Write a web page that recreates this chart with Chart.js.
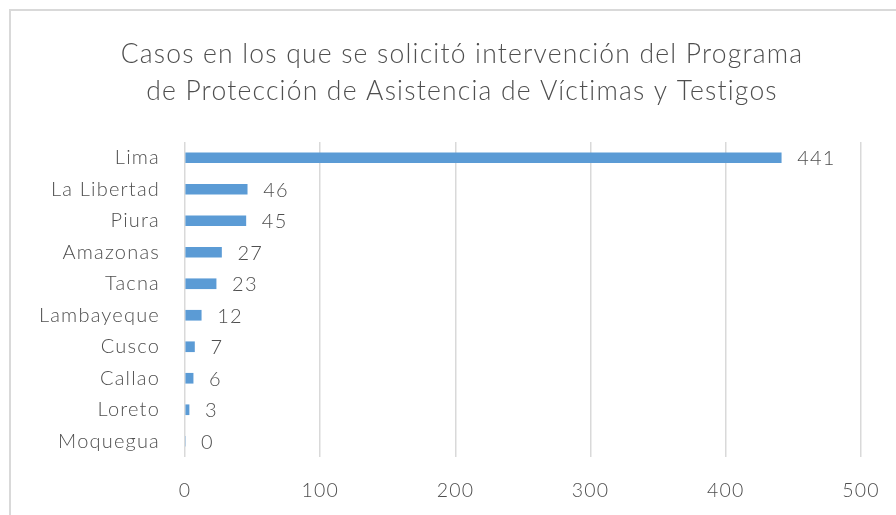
<!DOCTYPE html>
<html>
<head>
<meta charset="utf-8">
<script src="https://cdn.jsdelivr.net/npm/chart.js@4"></script>
<style>
  html, body { margin: 0; padding: 0; background: #fff; overflow: hidden; }
  #wrap { position: relative; width: 896px; height: 515px; }
  #frame { position: absolute; left: 9px; top: 9px; width: 1000px; height: 1000px; border: 2px solid #d9d9d9; box-sizing: border-box; }
  canvas { position: absolute; left: 0; top: 0; }
</style>
</head>
<body>
<div id="wrap">
  <div id="frame"></div>
  <canvas id="chart" width="896" height="515"></canvas>
</div>
<script>
// data
const regiones = ['Lima', 'La Libertad', 'Piura', 'Amazonas', 'Tacna', 'Lambayeque', 'Cusco', 'Callao', 'Loreto', 'Moquegua'];
const casos = [441, 46, 45, 27, 23, 12, 7, 6, 3, 0];
const titulo = ['Casos en los que se solicitó intervención del Programa', 'de Protección de Asistencia de Víctimas y Testigos'];
const xTicks = [0, 100, 200, 300, 400, 500];

const FONT = 'Lato, "Open Sans", sans-serif';
const GRAY = '#4f4f4f';
const SPACING = '1.2px';

// wider letter spacing, closer to the original Office look
const spacing = {
  id: 'spacing',
  beforeLayout(chart) { chart.ctx.letterSpacing = SPACING; },
  beforeDraw(chart) { chart.ctx.letterSpacing = SPACING; }
};

// title is centred on the full (cropped) chart frame, not on the canvas
const frameTitle = {
  id: 'frameTitle',
  afterDraw(chart) {
    const ctx = chart.ctx;
    ctx.save();
    ctx.letterSpacing = SPACING;
    ctx.font = '300 26.5px ' + FONT;
    ctx.fillStyle = GRAY;
    ctx.textAlign = 'center';
    ctx.textBaseline = 'middle';
    titulo.forEach((line, i) => ctx.fillText(line, 462, 54 + i * 37));
    ctx.restore();
  }
};

// simple value labels at the end of each bar
const barLabels = {
  id: 'barLabels',
  afterDatasetsDraw(chart) {
    const ctx = chart.ctx;
    const meta = chart.getDatasetMeta(0);
    ctx.save();
    ctx.letterSpacing = SPACING;
    ctx.font = '300 20px ' + FONT;
    ctx.fillStyle = GRAY;
    ctx.textAlign = 'left';
    ctx.textBaseline = 'middle';
    meta.data.forEach((bar, i) => {
      ctx.fillText(String(casos[i]), bar.x + 16, bar.y + 1);
    });
    ctx.restore();
  }
};

const ctx = document.getElementById('chart').getContext('2d');
new Chart(ctx, {
  type: 'bar',
  data: {
    labels: regiones,
    datasets: [{ data: casos, backgroundColor: '#5B9BD5', borderWidth: 0, barThickness: 10 }]
  },
  plugins: [spacing, frameTitle, barLabels],
  options: {
    indexAxis: 'y',
    responsive: false,
    animation: false,
    layout: { padding: { left: 26, right: 35, top: 142, bottom: 13 } },
    plugins: {
      legend: { display: false },
      tooltip: { enabled: false },
      title: { display: false }
    },
    scales: {
      x: {
        min: 0, max: 500,
        afterBuildTicks: s => { s.ticks = xTicks.map(v => ({ value: v })); },
        afterFit: s => { s.height = 45; s.paddingLeft = 0; s.paddingRight = 0; },
        grid: { color: '#d9d9d9', lineWidth: 1.5, drawTicks: false },
        border: { display: false },
        ticks: { color: GRAY, font: { family: FONT, size: 19.5, weight: 300 }, padding: 22 }
      },
      y: {
        afterFit: s => { s.width = 159; s.paddingTop = 0; s.paddingBottom = 0; },
        grid: { display: false, drawTicks: false },
        border: { display: false },
        ticks: { color: GRAY, font: { family: FONT, size: 20, weight: 300 }, padding: 25 }
      }
    }
  }
});
</script>
</body>
</html>
